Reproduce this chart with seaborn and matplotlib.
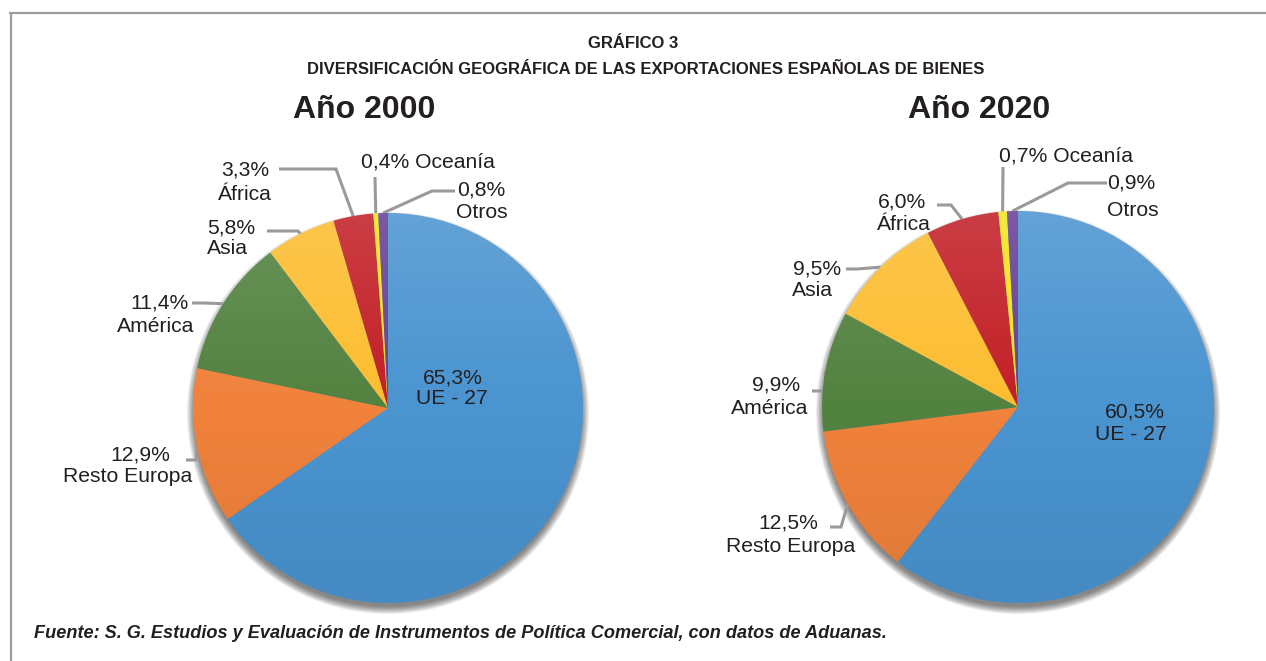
import numpy as np
import matplotlib
matplotlib.use("Agg")
import matplotlib.pyplot as plt
from matplotlib.patches import Circle
import seaborn as sns

# ---------------- data ----------------
categories = ["UE - 27", "Resto Europa", "América", "Asia", "África", "Oceanía", "Otros"]
values_2000 = [65.3, 12.9, 11.4, 5.8, 3.3, 0.4, 0.8]
values_2020 = [60.5, 12.5, 9.9, 9.5, 6.0, 0.7, 0.9]
labels_2000 = ["65,3%", "12,9%", "11,4%", "5,8%", "3,3%", "0,4%", "0,8%"]
labels_2020 = ["60,5%", "12,5%", "9,9%", "9,5%", "6,0%", "0,7%", "0,9%"]
years = ["Año 2000", "Año 2020"]
title_top = "GRÁFICO 3"
title_main = "DIVERSIFICACIÓN GEOGRÁFICA DE LAS EXPORTACIONES ESPAÑOLAS DE BIENES"
source = ("Fuente: S. G. Estudios y Evaluación de Instrumentos de Política Comercial, "
          "con datos de Aduanas.")

# ---------------- style ----------------
sns.set_theme(style="white")
plt.rcParams["font.family"] = ["Liberation Sans", "DejaVu Sans"]
palette = sns.color_palette(["#4a94d0", "#f0823c", "#528240", "#fcbd30",
                             "#c21f26", "#f2e51e", "#673f97"])
TXT = "#231f20"
LINE = "#9a9a9a"
W, H = 1266, 661

fig = plt.figure(figsize=(W / 100, H / 100), dpi=100)
ax = fig.add_axes([0, 0, 1, 1])
ax.set_xlim(0, W)
ax.set_ylim(0, H)
ax.set_aspect("equal")
ax.axis("off")


def Y(y):
    return H - y


# layout (image pixel coords)
pies = [
    dict(vals=values_2000, labs=labels_2000, c=(388, 408), r=195, title=(364, 110),
         center_lab=[(453, 378), (452, 399)],
         out=[None,
              dict(t1=(140, 455), t2=(128, 477), s=(186, 460), e=(196, 460)),
              dict(t1=(160, 303), t2=(156, 326), s=(192, 303), e=(203, 303)),
              dict(t1=(231, 228), t2=(227, 249), s=(267, 231), e=(298, 231)),
              dict(t1=(245, 170), t2=(245, 194), s=(279, 169), e=(336, 169)),
              dict(one=(428, 162), s=(375, 177), e=(375, 177)),
              dict(t1=(481, 190), t2=(482, 212), s=(455, 191), e=(432, 191))]),
    dict(vals=values_2020, labs=labels_2020, c=(1018, 407), r=196, title=(979, 110),
         center_lab=[(1135, 412), (1131, 435)],
         out=[None,
              dict(t1=(788, 523), t2=(791, 546), s=(830, 527), e=(841, 527)),
              dict(t1=(776, 385), t2=(770, 409), s=(812, 391), e=(826, 391)),
              dict(t1=(817, 269), t2=(812, 291), s=(846, 269), e=(857, 269)),
              dict(t1=(902, 202), t2=(904, 224), s=(937, 205), e=(951, 205)),
              dict(one=(1066, 156), s=(1003, 167), e=(1003, 167)),
              dict(t1=(1131, 183), t2=(1133, 210), s=(1107, 183), e=(1068, 183))]),
]

FS = 15.2
for p in pies:
    cx, cy = p["c"][0], Y(p["c"][1])
    r = p["r"]
    # soft shadow, offset downward
    for k in range(1, 11):
        ax.add_patch(Circle((cx, cy - 5), r - 2 + k * 0.8, color="black",
                            alpha=0.06, lw=0, zorder=1))
    wedges, _ = ax.pie(p["vals"], colors=palette, startangle=90, counterclock=False,
                       center=(cx, cy), radius=r, normalize=True,
                       wedgeprops=dict(linewidth=0), frame=True)
    for w in wedges:
        w.set_zorder(2)
    # vertical shading gradient
    n = 256
    grad = np.zeros((n, 2, 4))
    t = np.linspace(0, 1, n)[:, None]
    grad[..., :3] = np.where(t < 0.5, 1.0, 0.0)[..., None]
    grad[..., 3] = np.where(t < 0.5, 0.14 * (1 - t / 0.5), 0.07 * (t - 0.5) / 0.5)
    im = ax.imshow(grad, extent=(cx - r, cx + r, cy - r, cy + r), origin="upper",
                   aspect="auto", zorder=3, interpolation="bilinear")
    clip = Circle((cx, cy), r, transform=ax.transData)
    im.set_clip_path(clip)

    # center label
    ax.text(p["center_lab"][0][0], Y(p["center_lab"][0][1]), p["labs"][0],
            ha="center", va="center", fontsize=FS, color=TXT, zorder=5)
    ax.text(p["center_lab"][1][0], Y(p["center_lab"][1][1]), categories[0],
            ha="center", va="center", fontsize=FS, color=TXT, zorder=5)

    # outside labels with leader lines
    for i, w in enumerate(wedges):
        o = p["out"][i]
        if o is None:
            continue
        mid = np.deg2rad((w.theta1 + w.theta2) / 2)
        ex, ey = cx + r * np.cos(mid), cy + r * np.sin(mid)
        sx, sy = o["s"][0], Y(o["s"][1])
        bx, by = o["e"][0], Y(o["e"][1])
        ax.plot([sx, bx, ex], [sy, by, ey], color=LINE, lw=2.2, zorder=1.5,
                solid_capstyle="butt", solid_joinstyle="miter")
        if "one" in o:
            ax.text(o["one"][0], Y(o["one"][1]), f"{p['labs'][i]} {categories[i]}",
                    ha="center", va="center", fontsize=FS, color=TXT, zorder=5)
        else:
            ax.text(o["t1"][0], Y(o["t1"][1]), p["labs"][i], ha="center",
                    va="center", fontsize=FS, color=TXT, zorder=5)
            ax.text(o["t2"][0], Y(o["t2"][1]), categories[i], ha="center",
                    va="center", fontsize=FS, color=TXT, zorder=5)

ax.set_xlim(0, W)
ax.set_ylim(0, H)
ax.axis("off")

# titles
for p, yr in zip(pies, years):
    ax.text(p["title"][0], Y(p["title"][1]), yr, ha="center", va="center",
            fontsize=23, fontweight="bold", color=TXT)
ax.text(633, Y(43), title_top, ha="center", va="center", fontsize=12,
        fontweight="bold", color=TXT)
ax.text(646, Y(70), title_main, ha="center", va="center", fontsize=12,
        fontweight="bold", color=TXT)
ax.text(34, Y(634), source, ha="left", va="center", fontsize=13.1,
        fontweight="bold", fontstyle="italic", color=TXT)

# frame lines
ax.plot([10, W], [Y(13), Y(13)], color="#9d9d9d", lw=1.6, zorder=0.5)
ax.plot([10.5, 10.5], [Y(13), 0], color="#9d9d9d", lw=1.6, zorder=0.5)

fig.savefig("out.png", dpi=100)
